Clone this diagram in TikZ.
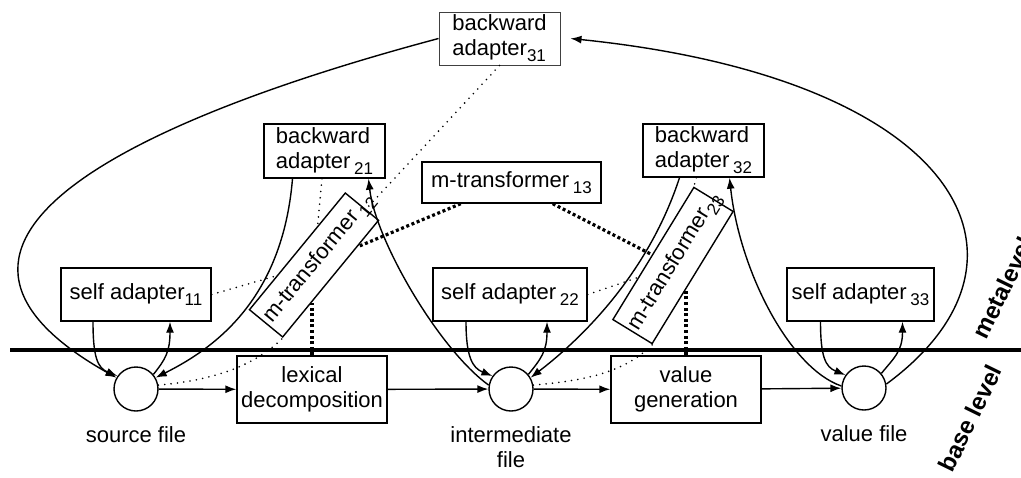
\documentclass[tikz,border=0pt]{standalone}
\usepackage{fontspec}
\setmainfont{Liberation Sans}
\usetikzlibrary{arrows.meta, positioning, calc}

% lowered index after a box label
\newcommand{\subix}[1]{\raisebox{-3pt}{\fontsize{8.5}{9}\selectfont #1}}

\tikzset{
  box/.style={draw, line width=0.7pt, inner sep=1pt, align=center},
  filecirc/.style={circle, draw, line width=0.7pt, minimum size=22pt, inner sep=0pt},
  flow/.style={->, line width=0.7pt},
  meta/.style={line width=0.9pt, line cap=round, dash pattern=on 0pt off 3.2pt},
  link/.style={line width=1.6pt, dash pattern=on 1.5pt off 1.3pt},
  level/.style={font=\fontsize{12}{14}\selectfont\bfseries, rotate=64},
  >={Latex[length=5.5pt,width=4pt]},
}

\begin{document}
\begin{tikzpicture}[x=0.5pt, y=-0.5pt, font=\fontsize{11}{12.5}\selectfont]
  \useasboundingbox (0,0) rectangle (1021,477);

  % level separator
  \draw[line width=2pt] (10,350) -- (1021,350);
  \node[level] (metalbl) at (1003,288) {metalevel};
  \node[level] (baselbl) at (970,418) {base level};

  % base level
  \node[filecirc] (src) at (136,389) {};
  \node[filecirc] (int) at (511,389) {};
  \node[filecirc] (val) at (864,388) {};
  \node[box, minimum width=75pt, minimum height=33.5pt] (lex) at (312,389.5) {lexical\\decomposition};
  \node[box, minimum width=75pt, minimum height=33.5pt] (valgen) at (686,389.5) {value\\generation};
  \node (srclbl) [below=4pt of src] {source file};
  \node (intlbl) [below=4pt of int, align=center] {intermediate\\file};
  \node (vallbl) [below=4pt of val] {value file};

  % metalevel
  \node[box, minimum width=75pt, minimum height=26.5pt] (sa11) at (136,294.5) {self adapter\subix{11}};
  \node[box, minimum width=77pt, minimum height=26.5pt] (sa22) at (510,294.5) {self adapter\,\subix{22}};
  \node[box, minimum width=73.5pt, minimum height=26.5pt] (sa33) at (860.5,294.5) {self adapter\,\subix{33}};
  \node[box, align=left, minimum width=60.5pt, minimum height=27pt] (bw21) at (324.5,151) {backward\\adapter\,\subix{21}};
  \node[box, align=left, minimum width=60.5pt, minimum height=26.5pt] (bw32) at (703.5,150.5) {backward\\adapter\,\subix{32}};
  \node[box, align=left, draw=black!75, line width=0.5pt, minimum width=60.5pt, minimum height=26.5pt] (bw31) at (499.5,38.5) {backward\\adapter\subix{31}};
  \node[box, minimum width=89.5pt, minimum height=20.5pt] (m13) at (511.5,182.5) {m-transformer\,\subix{13}};
  \node[box, inner sep=0pt, minimum width=75.5pt, minimum height=21.5pt, rotate=50.6] (m12) at (314,265)
    {\makebox[72pt][l]{m-transformer\,\subix{12}}};
  \node[box, inner sep=0pt, minimum width=77.5pt, minimum height=23pt, rotate=58.5] (m23) at (673,265.5)
    {\makebox[74pt][l]{m-transformer\subix{23}}};

  % processing chain
  \draw[flow] (src) -- (lex);
  \draw[flow] (lex) -- (int);
  \draw[flow] (int) -- (valgen);
  \draw[flow] (valgen) -- (val);

  % self adapters
  \draw[flow] ([xshift=-21.5pt]sa11.south) .. controls +(0,35) and +(-20,-8) .. (src.145);
  \draw[flow] (src.40) .. controls +(12,-15) and +(0,30) .. ([xshift=17pt]sa11.south);
  \draw[flow] ([xshift=-22pt]sa22.south) .. controls +(0,35) and +(-20,-8) .. (int.145);
  \draw[flow] (int.40) .. controls +(12,-15) and +(0,30) .. ([xshift=18.5pt]sa22.south);
  \draw[flow] ([xshift=-20pt]sa33.south) .. controls +(0,35) and +(-20,-8) .. (val.145);
  \draw[flow] (val.40) .. controls +(12,-15) and +(0,30) .. ([xshift=21pt]sa33.south);

  % backward adapters
  \draw[flow] ([xshift=-16pt]bw21.south) .. controls +(-10,120) and +(60,-30) .. (src.30);
  \draw[flow] (int.170) .. controls +(-49,-35) and +(7,62) .. ([xshift=22pt]bw21.south);
  \draw[flow] ([xshift=-12pt]bw32.south) .. controls +(-30,92) and +(56,-43) .. (int.30);
  \draw[flow] (val.175) .. controls +(-52,-18) and +(10,93) .. ([xshift=13pt]bw32.south);
  \draw[flow] (bw31.west) .. controls +(-300,80) and +(-243,-137) .. (src.150);
  \draw[flow] (val.10) .. controls +(170,-125) and +(390,40) .. ([xshift=5pt]bw31.east);

  % reflection links
  \draw[meta] (bw31.south) -- (m12);
  \draw[meta] (bw21) -- (m12);
  \draw[meta] (sa11.east) -- (m12);
  \draw[meta] (src.10) .. controls +(60,-5) and +(-25,25) .. (m12.south west);
  \draw[meta] (bw32) -- (m23);
  \draw[meta] (sa22.east) -- (m23);
  \draw[meta] (int.10) .. controls +(60,-5) and +(-25,25) .. (m23.south west);

  % transformer links
  \draw[link] (m13) -- (m12);
  \draw[link] (m13) -- (m23);
  \coordinate (m12foot) at ($(m12.south west)!0.3!(m12.south east)$);
  \coordinate (m23foot) at ($(m23.south west)!0.42!(m23.south east)$);
  \draw[link] (lex.north) -- (lex.north |- m12foot);
  \draw[link] (valgen.north) -- (valgen.north |- m23foot);
\end{tikzpicture}
\end{document}
